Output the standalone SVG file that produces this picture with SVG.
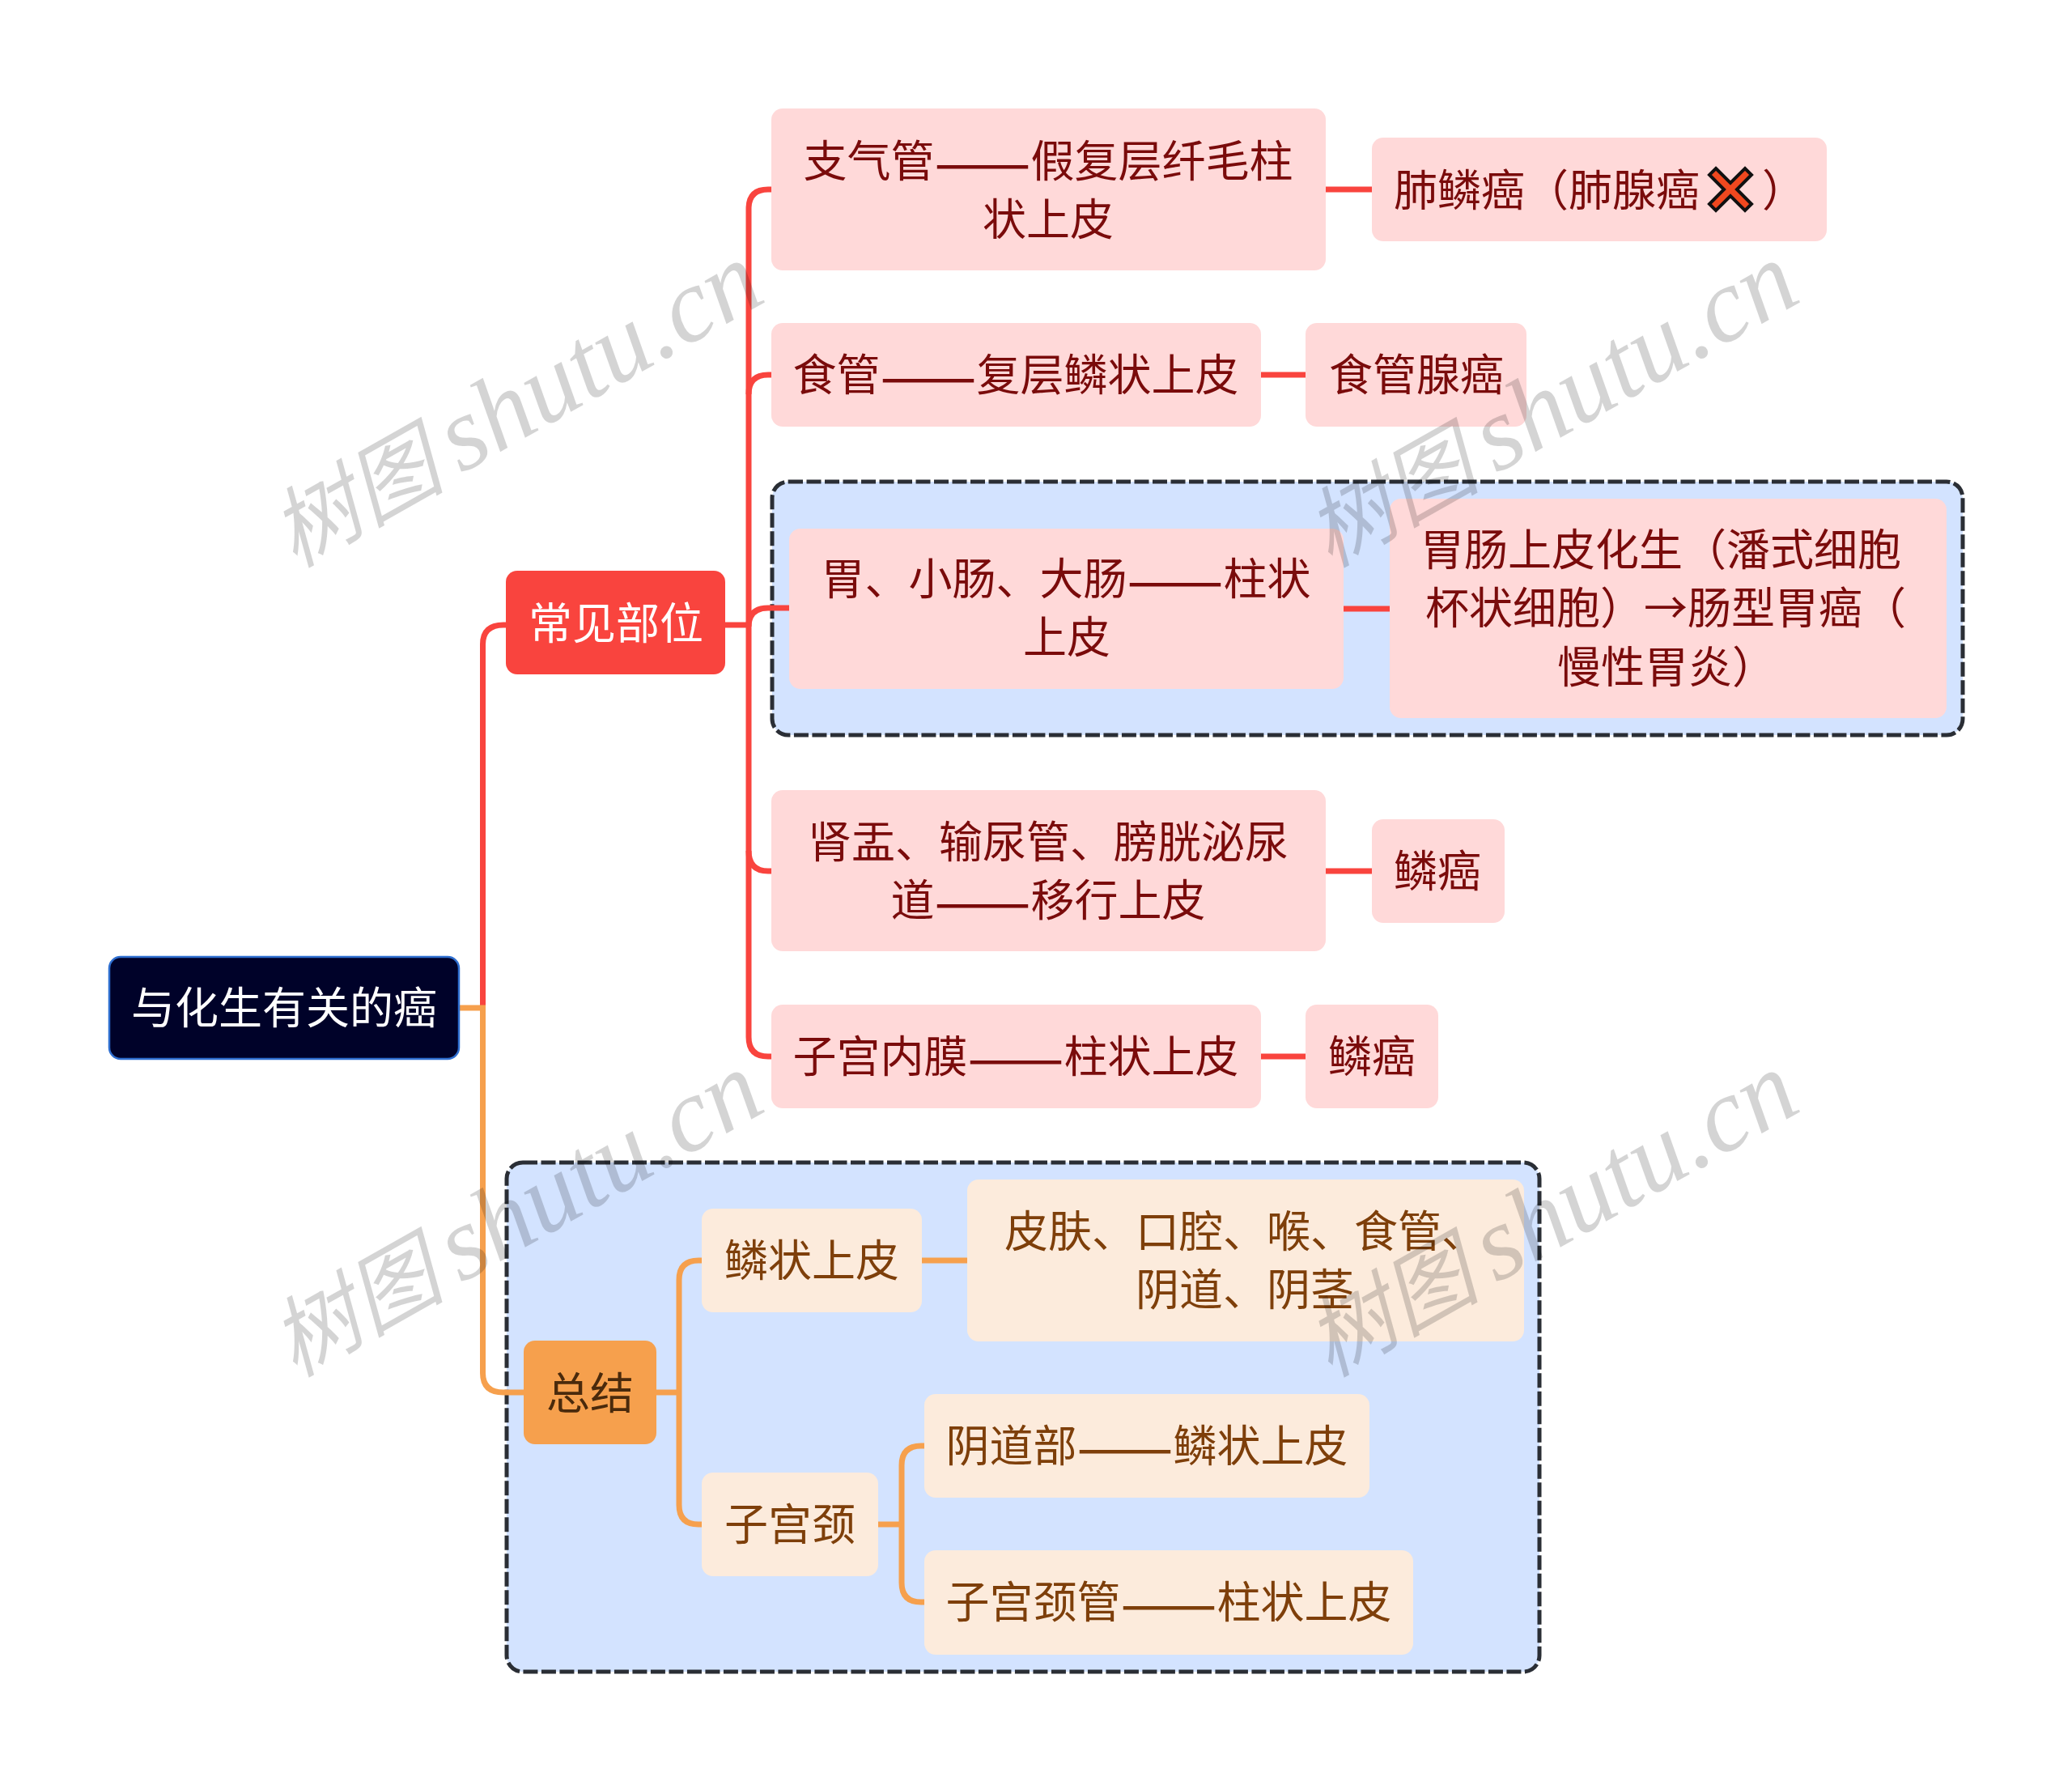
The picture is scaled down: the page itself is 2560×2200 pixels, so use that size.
<svg xmlns="http://www.w3.org/2000/svg" width="2560" height="2200" viewBox="0 0 2560 2200">
<style>
text{font-family:"Noto Sans CJK SC","Liberation Sans",sans-serif;font-size:54px;text-anchor:middle}
.l{text-anchor:start}
.d{font-size:71px}
.red rect{fill:#FFD9D9}.red text{fill:#7A0B0B}
.or rect{fill:#FCEBDC}.or text{fill:#7E3F0A}
.c{fill:none;stroke-width:7}
.cr{stroke:#F9443E}.co{stroke:#F6A04D}
.sum{fill:#D3E3FF;stroke:#2A2E35;stroke-width:5;stroke-dasharray:18 4.500}
.wm{font-family:"Liberation Serif","Noto Sans CJK SC",serif;font-style:italic;font-size:130px;fill:#000;fill-opacity:.17;text-anchor:start}
.wc{font-family:"Noto Sans CJK SC",serif;font-size:108px}
</style>
<g id="summaries">
<rect class="sum" x="954" y="595" width="1471" height="313" rx="20"/>
<rect class="sum" x="626" y="1436" width="1276" height="629" rx="20"/>
</g>
<g id="connectors">
<path class="c cr" d="M596.500 1245V796Q596.500 772 622 772H625"/>
<path class="c co" d="M567 1245H596.500V1696Q596.500 1720 622 1720H647"/>
<path class="c cr" d="M896 772H925"/>
<path class="c cr" d="M953 234H949Q925 234 925 258V1281Q925 1305 949 1305H953"/>
<path class="c cr" d="M925 487Q925 463 949 463H953"/>
<path class="c cr" d="M925 774Q925 751 949 751H975"/>
<path class="c cr" d="M925 1051Q925 1076 949 1076H953"/>
<path class="c cr" d="M1638 234H1696"/>
<path class="c cr" d="M1558 463H1613"/>
<path class="c cr" d="M1660 752H1717"/>
<path class="c cr" d="M1638 1076H1695"/>
<path class="c cr" d="M1558 1305H1613"/>
<path class="c co" d="M811 1720H839"/>
<path class="c co" d="M867 1557H863Q839 1557 839 1581V1859Q839 1883 863 1883H867"/>
<path class="c co" d="M1139 1557H1195"/>
<path class="c co" d="M1085 1883H1114"/>
<path class="c co" d="M1142 1786H1138Q1114 1786 1114 1810V1955Q1114 1979 1138 1979H1142"/>
</g>
<g id="root"><rect x="135" y="1182" width="432" height="126" rx="14" fill="#000229" stroke="#2F6FD0" stroke-width="2.500"/><text x="351" y="1265" fill="#fff">与化生有关的癌</text></g>
<g id="n-buwei"><rect x="625" y="705" width="271" height="128" rx="14" fill="#F9443E"/><text x="761" y="790" fill="#fff">常见部位</text></g>
<g id="n-zongjie"><rect x="647" y="1656" width="164" height="128" rx="14" fill="#F6A04D"/><text x="729" y="1741" fill="#4A2A0C">总结</text></g>
<g class="red">
<g id="n1"><rect x="953" y="134" width="685" height="200" rx="14"/><text x="1295" y="219">支气管<tspan class="d" dy="7">——</tspan><tspan dy="-7">假复层纤毛柱</tspan></text><text x="1295" y="291">状上皮</text></g>
<g id="n1a"><rect x="1695" y="170" width="562" height="128" rx="14"/><text class="l" x="1722" y="255">肺鳞癌（肺腺癌</text><path d="M2120 208L2138 226L2156 208L2164 216L2146 234L2164 252L2156 260L2138 242L2120 260L2112 252L2130 234L2112 216Z" fill="#F0481F" stroke="#111" stroke-width="4"/><text class="l" x="2177" y="255">）</text></g>
<g id="n2"><rect x="953" y="399" width="605" height="128" rx="14"/><text x="1255" y="483">食管<tspan class="d" dy="7">——</tspan><tspan dy="-7">复层鳞状上皮</tspan></text></g>
<g id="n2a"><rect x="1613" y="399" width="273" height="128" rx="14"/><text x="1750" y="483">食管腺癌</text></g>
<g id="n3"><rect x="975" y="653" width="685" height="198" rx="14"/><text x="1317" y="735">胃、小肠、大肠<tspan class="d" dy="7">——</tspan><tspan dy="-7">柱状</tspan></text><text x="1318" y="807">上皮</text></g>
<g id="n3a"><rect x="1717" y="616" width="688" height="271" rx="14"/><text x="2052" y="699">胃肠上皮化生（潘式细胞</text><text x="2058" y="771">杯状细胞）→肠型胃癌（</text><text x="2059" y="844">慢性胃炎）</text></g>
<g id="n4"><rect x="953" y="976" width="685" height="199" rx="14"/><text x="1295" y="1060">肾盂、输尿管、膀胱泌尿</text><text x="1295" y="1132">道<tspan class="d" dy="7">——</tspan><tspan dy="-7">移行上皮</tspan></text></g>
<g id="n4a"><rect x="1695" y="1012" width="164" height="128" rx="14"/><text x="1776" y="1096">鳞癌</text></g>
<g id="n5"><rect x="953" y="1241" width="605" height="128" rx="14"/><text x="1255" y="1325">子宫内膜<tspan class="d" dy="7">——</tspan><tspan dy="-7">柱状上皮</tspan></text></g>
<g id="n5a"><rect x="1613" y="1241" width="164" height="128" rx="14"/><text x="1695" y="1325">鳞癌</text></g>
</g>
<g class="or">
<g id="s1"><rect x="867" y="1493" width="272" height="128" rx="14"/><text x="1003" y="1577">鳞状上皮</text></g>
<g id="s1a"><rect x="1195" y="1457" width="688" height="200" rx="14"/><text x="1538" y="1541">皮肤、口腔、喉、食管、</text><text x="1538" y="1613">阴道、阴茎</text></g>
<g id="s2"><rect x="867" y="1819" width="218" height="128" rx="14"/><text x="976" y="1903">子宫颈</text></g>
<g id="s2a"><rect x="1142" y="1722" width="550" height="128" rx="14"/><text x="1417" y="1806">阴道部<tspan class="d" dy="7">——</tspan><tspan dy="-7">鳞状上皮</tspan></text></g>
<g id="s2b"><rect x="1142" y="1915" width="604" height="129" rx="14"/><text x="1444" y="1999">子宫颈管<tspan class="d" dy="7">——</tspan><tspan dy="-7">柱状上皮</tspan></text></g>
</g>
<g id="watermarks">
<text class="wm" transform="translate(364 702) rotate(-29.500)"><tspan class="wc">树图</tspan><tspan dx="-12"> shutu.cn</tspan></text>
<text class="wm" transform="translate(1643 702) rotate(-29.500)"><tspan class="wc">树图</tspan><tspan dx="-12"> shutu.cn</tspan></text>
<text class="wm" transform="translate(364 1702) rotate(-29.500)"><tspan class="wc">树图</tspan><tspan dx="-12"> shutu.cn</tspan></text>
<text class="wm" transform="translate(1643 1702) rotate(-29.500)"><tspan class="wc">树图</tspan><tspan dx="-12"> shutu.cn</tspan></text>
</g>
</svg>
